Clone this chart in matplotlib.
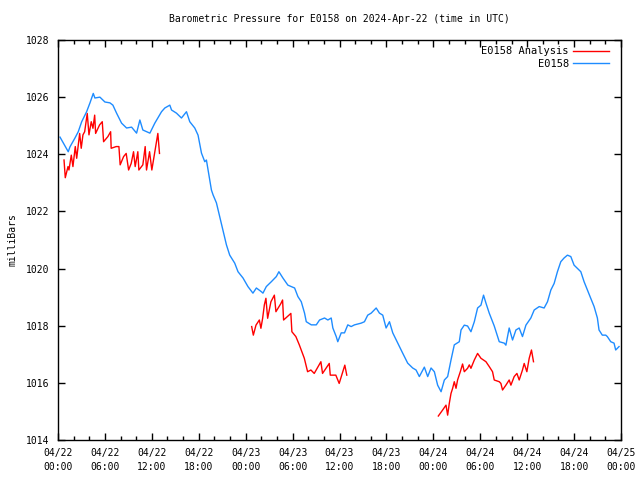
import matplotlib
matplotlib.use("Agg")
import matplotlib.pyplot as plt
import numpy as np

# hours since 2024-04-22 00:00 UTC, pressure in mB
blue_h = [0.26, 1.31, 1.53, 2.17, 2.59, 3.03, 3.66, 4.09, 4.51, 4.72, 5.36, 6.00, 6.64, 7.02,
          7.49, 8.13, 8.77, 9.41, 10.05, 10.47, 10.85, 11.75, 12.38, 13.24, 13.66, 14.30, 14.52,
          15.15, 15.79, 16.43, 16.85, 17.49, 17.91, 18.35, 18.77, 18.98, 19.19, 19.62, 19.83,
          20.26, 20.68, 21.10, 21.54, 21.96, 22.60, 23.02, 23.66, 24.29, 24.93, 25.37, 26.01,
          26.21, 26.64, 27.28, 27.92, 28.25, 28.76, 29.40, 30.26, 30.68, 31.11, 31.53, 31.75,
          32.39, 33.03, 33.45, 34.09, 34.51, 34.94, 35.15, 35.58, 35.78, 36.22, 36.64, 37.06,
          37.49, 37.92, 38.77, 39.19, 39.61, 40.05, 40.69, 41.11, 41.53, 41.96, 42.39, 42.81,
          43.45, 44.08, 44.72, 45.36, 45.79, 46.21, 46.85, 47.28, 47.71, 48.13, 48.55, 48.99,
          49.41, 49.83, 50.26, 50.68, 51.32, 51.54, 51.96, 52.38, 52.81, 53.24, 53.66, 54.09,
          54.42, 54.73, 55.15, 55.79, 56.43, 57.07, 57.28, 57.70, 58.13, 58.56, 58.98, 59.40,
          59.84, 60.47, 60.90, 61.54, 62.17, 62.60, 63.03, 63.45, 63.87, 64.30, 64.72, 65.15,
          65.58, 66.00, 66.42, 66.86, 67.28, 67.70, 68.13, 68.56, 68.98, 69.19, 69.61, 70.05,
          70.25, 70.69, 71.11, 71.32, 71.75]
blue_p = [1024.60, 1024.09, 1024.26, 1024.57, 1024.79, 1025.14, 1025.49, 1025.80, 1026.13,
          1025.97, 1026.00, 1025.83, 1025.80, 1025.72, 1025.44, 1025.09, 1024.92, 1024.95,
          1024.74, 1025.20, 1024.85, 1024.74, 1025.09, 1025.49, 1025.62, 1025.72, 1025.55,
          1025.44, 1025.27, 1025.49, 1025.14, 1024.92, 1024.67, 1024.04, 1023.74, 1023.80,
          1023.45, 1022.75, 1022.58, 1022.30, 1021.82, 1021.35, 1020.83, 1020.47, 1020.19,
          1019.89, 1019.67, 1019.37, 1019.14, 1019.32, 1019.19, 1019.14, 1019.37, 1019.54,
          1019.72, 1019.89, 1019.67, 1019.42, 1019.32, 1019.02, 1018.84, 1018.44, 1018.14,
          1018.03, 1018.03, 1018.20, 1018.27, 1018.20, 1018.27, 1017.92, 1017.62, 1017.44,
          1017.75, 1017.75, 1018.03, 1017.97, 1018.03, 1018.09, 1018.14, 1018.37, 1018.44,
          1018.62, 1018.44, 1018.37, 1017.92, 1018.14, 1017.75, 1017.39, 1017.04, 1016.69,
          1016.52, 1016.45, 1016.22, 1016.55, 1016.22, 1016.52, 1016.39, 1015.92, 1015.69,
          1016.10, 1016.22, 1016.80, 1017.33, 1017.44, 1017.85, 1018.02, 1017.99, 1017.79,
          1018.14, 1018.62, 1018.72, 1019.07, 1018.79, 1018.44, 1017.99, 1017.44, 1017.39,
          1017.32, 1017.92, 1017.50, 1017.85, 1017.92, 1017.62, 1018.02, 1018.27, 1018.55,
          1018.67, 1018.62, 1018.84, 1019.25, 1019.48, 1019.89, 1020.24, 1020.37, 1020.47,
          1020.42, 1020.12, 1020.01, 1019.89, 1019.54, 1019.25, 1018.96, 1018.67, 1018.27,
          1017.85, 1017.67, 1017.67, 1017.62, 1017.44, 1017.39, 1017.15, 1017.27]

red1_h = [0.77, 0.93, 1.28, 1.40, 1.70, 1.91, 2.21, 2.39, 2.77, 2.97, 3.19, 3.41, 3.74, 3.96,
          4.25, 4.47, 4.69, 4.81, 5.32, 5.66, 5.83, 6.38, 6.73, 6.80, 7.44, 7.79, 7.95, 8.39,
          8.72, 9.03, 9.36, 9.66, 9.87, 10.21, 10.34, 10.85, 11.15, 11.32, 11.71, 12.00,
          12.77, 12.98]
red1_p = [1023.80, 1023.18, 1023.57, 1023.45, 1023.97, 1023.57, 1024.27, 1023.86, 1024.73,
          1024.21, 1024.68, 1024.79, 1025.43, 1024.68, 1025.14, 1024.91, 1025.37, 1024.73,
          1025.03, 1025.14, 1024.44, 1024.62, 1024.79, 1024.21, 1024.27, 1024.27, 1023.63,
          1023.92, 1024.03, 1023.45, 1023.68, 1024.09, 1023.57, 1024.09, 1023.45, 1023.63,
          1024.27, 1023.45, 1024.09, 1023.45, 1024.73, 1024.03]
red2_h = [24.77, 24.98, 25.32, 25.75, 25.95, 26.17, 26.39, 26.59, 26.81, 27.23, 27.67, 27.87,
          28.51, 28.72, 28.85, 29.78, 29.91, 30.42, 30.86, 31.50, 31.92, 32.34, 32.77, 33.62,
          33.83, 34.69, 34.82, 35.53, 35.96, 36.68, 36.93]
red2_p = [1017.97, 1017.67, 1018.02, 1018.20, 1017.91, 1018.26, 1018.73, 1018.96, 1018.26,
          1018.84, 1019.07, 1018.49, 1018.78, 1018.90, 1018.20, 1018.43, 1017.79, 1017.62,
          1017.33, 1016.86, 1016.39, 1016.45, 1016.33, 1016.74, 1016.33, 1016.68, 1016.27,
          1016.27, 1015.98, 1016.62, 1016.27]
red3_h = [48.64, 49.19, 49.62, 49.83, 50.04, 50.26, 50.47, 50.68, 50.90, 51.10, 51.45, 51.74,
          51.96, 52.38, 52.60, 52.81, 53.24, 53.66, 54.09, 54.73, 55.15, 55.57, 55.79, 56.43,
          56.64, 56.85, 57.28, 57.70, 57.92, 58.34, 58.69, 58.98, 59.40, 59.62, 59.96, 60.26,
          60.55, 60.81]
red3_p = [1014.84, 1015.05, 1015.22, 1014.87, 1015.28, 1015.63, 1015.81, 1016.04, 1015.81,
          1016.10, 1016.39, 1016.66, 1016.39, 1016.51, 1016.63, 1016.51, 1016.80, 1017.03,
          1016.86, 1016.74, 1016.57, 1016.39, 1016.10, 1016.04, 1015.98, 1015.75, 1015.92,
          1016.10, 1015.92, 1016.22, 1016.33, 1016.10, 1016.45, 1016.68, 1016.39, 1016.86,
          1017.15, 1016.74]

xtick_hours = [0, 6, 12, 18, 24, 30, 36, 42, 48, 54, 60, 66, 72]
xtick_labels = ["04/22\n00:00", "04/22\n06:00", "04/22\n12:00", "04/22\n18:00",
                "04/23\n00:00", "04/23\n06:00", "04/23\n12:00", "04/23\n18:00",
                "04/24\n00:00", "04/24\n06:00", "04/24\n12:00", "04/24\n18:00",
                "04/25\n00:00"]
ytick_vals = [1014, 1016, 1018, 1020, 1022, 1024, 1026, 1028]

plt.rcParams['font.family'] = ['DejaVu Sans Mono']
plt.rcParams['font.size'] = 7

fig = plt.figure(figsize=(6.4, 4.8), dpi=100)
ax = fig.add_axes([58/640, 40/480, 563/640, 400/480])

RED = '#ff0000'
BLUE = '#1e8cff'
ax.plot(red1_h, red1_p, color=RED, lw=1.0, label='E0158 Analysis')
ax.plot(red2_h, red2_p, color=RED, lw=1.0)
ax.plot(red3_h, red3_p, color=RED, lw=1.0)
ax.plot(blue_h, blue_p, color=BLUE, lw=1.0, label='E0158')

ax.set_xlim(0, 72)
ax.set_ylim(1014, 1028)
ax.set_xticks(xtick_hours)
ax.set_xticklabels(xtick_labels, linespacing=1.45)
ax.set_xticks(np.arange(0, 73, 2), minor=True)
ax.set_yticks(ytick_vals)
ax.set_yticklabels([str(v) for v in ytick_vals])

ax.tick_params(which='both', direction='in', top=True, right=True, width=1, colors='black')
ax.tick_params(which='major', length=5, pad=6)
ax.tick_params(which='minor', length=3)
for s in ax.spines.values():
    s.set_linewidth(1.0)

ax.set_title('Barometric Pressure for E0158 on 2024-Apr-22 (time in UTC)', fontsize=7, pad=13)
ax.set_ylabel('milliBars', fontsize=7, labelpad=6)

leg = ax.legend(loc='upper right', bbox_to_anchor=(0.989, 1.0), frameon=False,
                markerfirst=False, handlelength=3.4, handletextpad=0.4, labelspacing=0.25,
                borderaxespad=0.2, fontsize=7.5)

fig.savefig('out.png', dpi=100)
